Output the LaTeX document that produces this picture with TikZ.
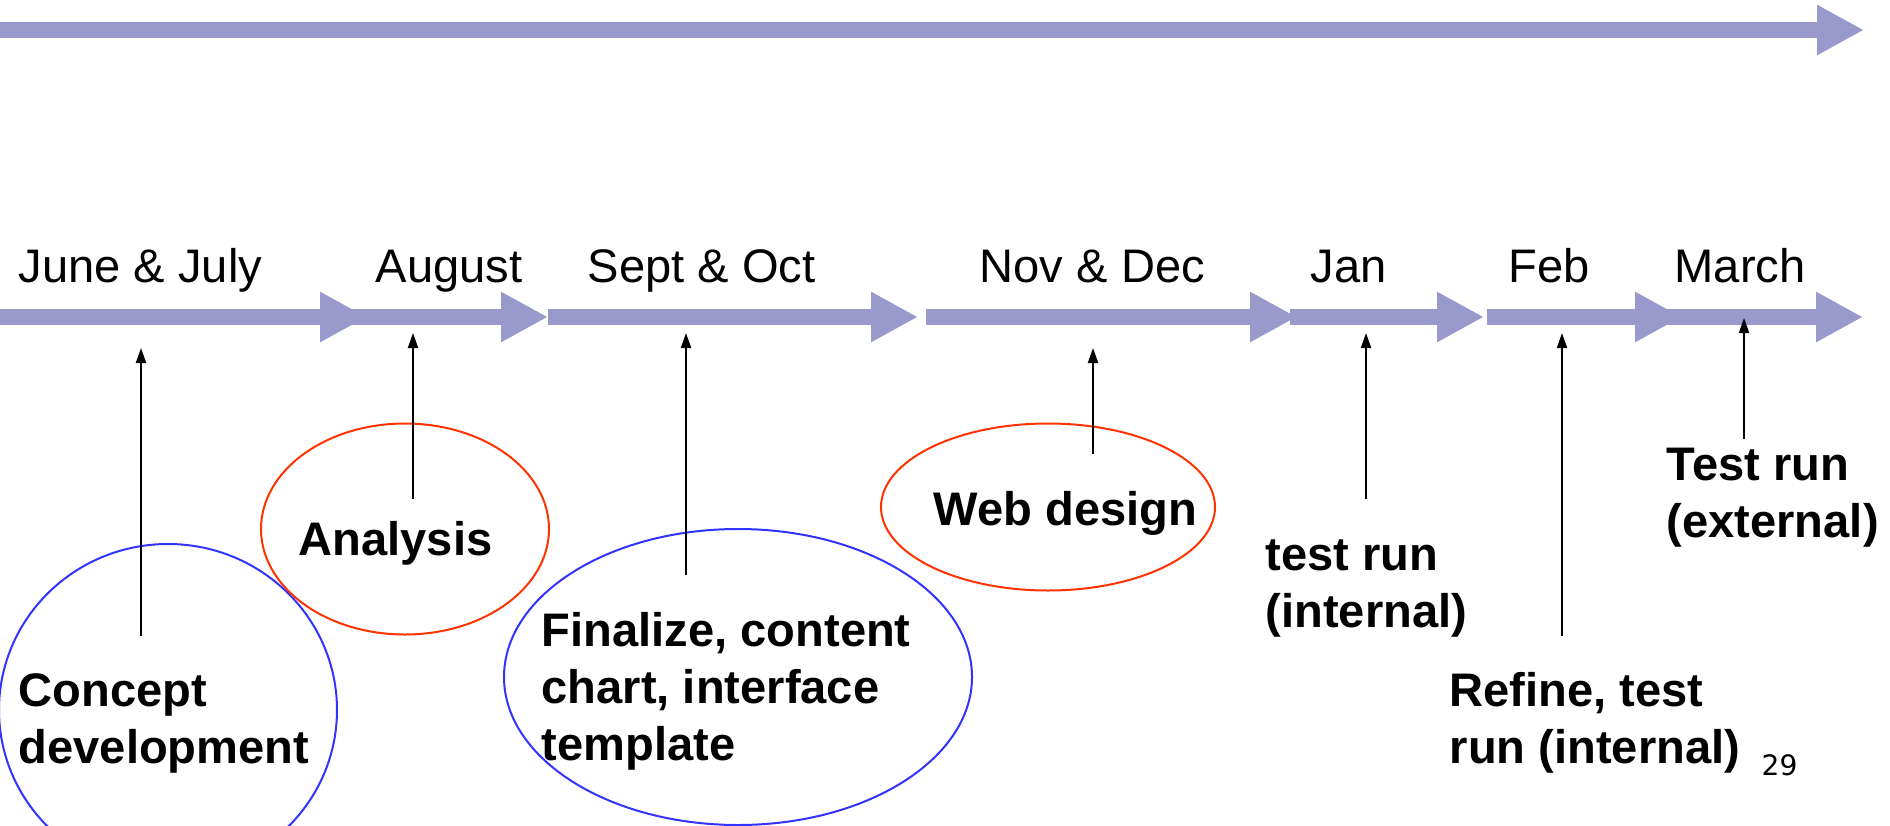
\documentclass[tikz,border=0pt]{standalone}
\usepackage{fontspec}
\setmainfont{Liberation Sans}
\newfontfamily\pagefont{DejaVu Sans}
\usetikzlibrary{arrows.meta,shapes.geometric}
\definecolor{lilac}{HTML}{9999CC}
\definecolor{ovalred}{HTML}{FF3300}
\definecolor{ovalblue}{HTML}{3333FF}
\tikzset{month/.style={anchor=base west,inner sep=0,font=\fontsize{13.4pt}{16.1pt}\selectfont},
  task/.style={anchor=base west,inner sep=0,align=left,font=\fontsize{13.4pt}{16.1pt}\selectfont\bfseries},
  span/.style={draw=lilac,line width=1.6mm,-{Triangle[length=4.7mm,width=4.7mm]}},
  pin/.style={draw,line width=0.2mm,-{Triangle[length=1.5mm,width=1mm]}},
  redoval/.style={ellipse,draw=ovalred,line width=0.2mm,inner sep=0},
  blueoval/.style={ellipse,draw=ovalblue,line width=0.2mm,inner sep=0}}

\begin{document}
\begin{tikzpicture}[x=0.1mm,y=-0.1mm]
\useasboundingbox (0,0) rectangle (1890,825);
% long arrow on top
\coordinate (top-s) at (0,30);
\coordinate (top-e) at (1864,30);
\draw[span] (top-s) -- (top-e);
% one arrow for each period
\foreach \name/\from/\to in {jun/0/367,aug/351/548,sep/548/918,nov/926/1297,jan/1290/1484,feb/1487/1682,mar/1667/1863}{
  \coordinate (\name-s) at (\from,317);
  \coordinate (\name-e) at (\to,317);
  \draw[span] (\name-s) -- (\name-e);
}
\node[month] (jun) at (18,282) {June \& July};
\node[month] (aug) at (375,282) {August};
\node[month] (sep) at (587,282) {Sept \& Oct};
\node[month] (nov) at (979,282) {Nov \& Dec};
\node[month] (jan) at (1310,282) {Jan};
\node[month] (feb) at (1508,282) {Feb};
\node[month] (mar) at (1674,282) {March};
% ovals
\node[blueoval,minimum width=33.8mm,minimum height=33.2mm] (concept-oval) at (168,710) {};
\node[redoval,minimum width=28.8mm,minimum height=21.1mm] (analysis-oval) at (405,529) {};
\node[blueoval,minimum width=46.8mm,minimum height=29.6mm] (finalize-oval) at (738,677) {};
\node[redoval,minimum width=33.4mm,minimum height=16.7mm] (web-oval) at (1048,507) {};
% pointers up to the time line
\foreach \name/\x/\low/\high in {jun/141/636/348,aug/413/499/333,sep/686/575/333,nov/1093/454/348,jan/1366/499/333,feb/1562/636/333,mar/1744/439/318}{
  \coordinate (\name-low) at (\x,\low);
  \coordinate (\name-high) at (\x,\high);
  \draw[pin] (\name-low) -- (\name-high);
}
% tasks (base = last line)
\node[task] (concept) at (18,763) {Concept\\development};
\node[task] (analysis) at (298,555) {Analysis};
\node[task] (finalize) at (541,760) {Finalize, content\\chart, interface\\template};
\node[task] (web) at (933,525) {Web design};
\node[task] (test-int) at (1265,627) {test run\\(internal)};
\node[task] (refine) at (1449,763) {Refine, test\\run (internal)};
\node[task] (test-ext) at (1666,537) {Test run\\(external)};
\node[anchor=base west,inner sep=0,font=\pagefont\fontsize{8pt}{9pt}\selectfont] (page) at (1761,775) {29};
\end{tikzpicture}
\end{document}
